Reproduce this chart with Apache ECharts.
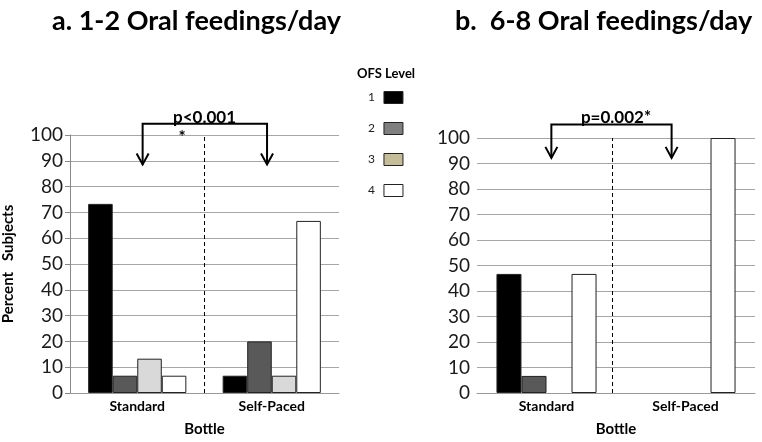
<!DOCTYPE html>
<html>
<head>
<meta charset="utf-8">
<script src="https://cdn.jsdelivr.net/npm/echarts@6/dist/echarts.min.js"></script>
<style>
  html, body { margin: 0; padding: 0; background: #fff; }
  #main { width: 762px; height: 442px; }
</style>
</head>
<body>
<div id="main"></div>
<script>
    var categories = ['Standard', 'Self-Paced'];
    var levels = ['1', '2', '3', '4'];
    var yTicks = [0, 10, 20, 30, 40, 50, 60, 70, 80, 90, 100];

    // a. 1-2 oral feedings/day, percent of subjects per OFS level
    var aLevel1 = [73.3, 6.7];
    var aLevel2 = [6.7, 20];
    var aLevel3 = [13.3, 6.7];
    var aLevel4 = [6.7, 66.7];

    // b. 6-8 oral feedings/day
    var bLevel1 = [46.7, 0];
    var bLevel2 = [6.7, 0];
    var bLevel3 = [0, 0];
    var bLevel4 = [46.7, 100];

    var pLabels = ['p<0.001', 'p=0.002*'];

    var FONT = 'Lato, "Open Sans", sans-serif';
    var barColors = ['#000000', '#595959', '#d9d9d9', '#ffffff'];
    var legendColors = ['#000000', '#7f7f7f', '#c4bd97', '#ffffff'];

    // bracket annotations, in (divider axis 0..2, percent) units
    var brackets = [
        {x1: 0.54, x2: 1.465, top: 104.4, tip: 88.6, textX: 1.0, star: true},
        {x1: 0.535, x2: 1.40, top: 105.3, tip: 92.2, textX: 1.0, star: false}
    ];
    var dividers = [1.0, 0.97];

    function bracketRender(idx) {
        return function (params, api) {
            var b = brackets[idx];
            var pL = api.coord([b.x1, b.top]);
            var pR = api.coord([b.x2, b.top]);
            var tL = api.coord([b.x1, b.tip]);
            var tR = api.coord([b.x2, b.tip]);
            var lineStyle = {stroke: '#000', lineWidth: 2, fill: null};
            var children = [
                {type: 'polyline', shape: {points: [tL, pL, pR, tR]}, style: lineStyle},
                {type: 'polyline', shape: {points: [[tL[0] - 6, tL[1] - 11], tL, [tL[0] + 6, tL[1] - 11]]}, style: lineStyle},
                {type: 'polyline', shape: {points: [[tR[0] - 6, tR[1] - 11], tR, [tR[0] + 6, tR[1] - 11]]}, style: lineStyle}
            ];
            var tp = api.coord([b.textX, b.top]);
            children.push({
                type: 'text',
                style: {text: pLabels[idx], x: tp[0], y: tp[1] + 2, align: 'center', verticalAlign: 'bottom',
                    font: 'bold 17px ' + FONT, fill: '#000'}
            });
            if (b.star) {
                children.push({
                    type: 'text',
                    style: {text: '*', x: tp[0] - 26, y: tp[1] + 5, align: 'left', verticalAlign: 'top',
                        font: 'bold 17px ' + FONT, fill: '#000'}
                });
            }
            return {type: 'group', children: children};
        };
    }

    function barSeries(name, data, gridIdx, colorIdx, gap) {
        return {
            name: name,
            type: 'bar',
            xAxisIndex: gridIdx,
            yAxisIndex: gridIdx,
            // an empty bar gets no outline
            data: data.map(function (v) {
                return v === 0 ? {value: v, itemStyle: {borderWidth: 0}} : v;
            }),
            barGap: 0,
            barCategoryGap: gap,
            itemStyle: {color: barColors[colorIdx], borderColor: '#222', borderWidth: 1},
            emphasis: {disabled: true}
        };
    }

    function yAxis(gridIdx, showLine, name) {
        return {
            type: 'value',
            gridIndex: gridIdx,
            min: 0, max: 100, interval: 10,
            name: name,
            nameLocation: 'middle',
            nameGap: 54,
            nameTextStyle: {fontFamily: FONT, fontWeight: 'bold', fontSize: 15, color: '#000'},
            axisLine: {show: showLine, lineStyle: {color: '#888'}},
            axisTick: {show: showLine, length: 5, lineStyle: {color: '#888'}},
            axisLabel: {fontFamily: FONT, fontSize: 19, color: '#1a1a1a', margin: 7,
                formatter: function (v) { return yTicks.indexOf(v) >= 0 ? String(v) : ''; }},
            splitLine: {lineStyle: {color: '#a6a6a6'}}
        };
    }

    function catAxis(gridIdx) {
        return {
            type: 'category',
            gridIndex: gridIdx,
            data: categories,
            name: 'Bottle',
            nameLocation: 'middle',
            nameGap: 29,
            nameTextStyle: {fontFamily: FONT, fontWeight: 'bold', fontSize: 15, color: '#000'},
            axisLine: {lineStyle: {color: '#999'}},
            axisTick: {show: false},
            axisLabel: {fontFamily: FONT, fontWeight: 'bold', fontSize: 14, color: '#000', margin: 6}
        };
    }

    function dividerAxis(gridIdx) {
        return {type: 'value', gridIndex: gridIdx, min: 0, max: 2, show: false};
    }

    var chart = echarts.init(document.getElementById('main'));
    var option = {
        backgroundColor: '#fff',
        animation: false,
        title: [
            {text: 'a. 1-2 Oral feedings/day', left: 47, top: 3,
                textStyle: {fontFamily: FONT, fontWeight: 'bold', fontSize: 27, color: '#000'}},
            {text: 'b.  6-8 Oral feedings/day', left: 450, top: 3,
                textStyle: {fontFamily: FONT, fontWeight: 'bold', fontSize: 27, color: '#000'}},
            {text: 'OFS Level', left: 352, top: 62,
                textStyle: {fontFamily: FONT, fontWeight: 'bold', fontSize: 13, color: '#000'}}
        ],
        legend: {
            orient: 'vertical',
            left: 363,
            top: 86,
            align: 'right',
            itemWidth: 19,
            itemHeight: 12,
            itemGap: 18,
            icon: 'rect',
            selectedMode: false,
            textStyle: {fontFamily: FONT, fontSize: 12, color: '#222', padding: [0, 4, 10, 0]},
            data: levels.map(function (l, i) {
                return {name: l, itemStyle: {color: legendColors[i], borderColor: '#222', borderWidth: 1}};
            })
        },
        grid: [
            {left: 69, right: 423, top: 135, bottom: 43},
            {left: 477, right: 7, top: 138, bottom: 41}
        ],
        xAxis: [catAxis(0), catAxis(1), dividerAxis(0), dividerAxis(1)],
        yAxis: [yAxis(0, true, 'Percent   Subjects'), yAxis(1, false, '')],
        series: [
            barSeries('1', aLevel1, 0, 0, '27%'),
            barSeries('2', aLevel2, 0, 1, '27%'),
            barSeries('3', aLevel3, 0, 2, '27%'),
            barSeries('4', aLevel4, 0, 3, '27%'),
            barSeries('1', bLevel1, 1, 0, '28%'),
            barSeries('2', bLevel2, 1, 1, '28%'),
            barSeries('3', bLevel3, 1, 2, '28%'),
            barSeries('4', bLevel4, 1, 3, '28%'),
            {
                type: 'custom', xAxisIndex: 2, yAxisIndex: 0, silent: true,
                renderItem: bracketRender(0), data: [[brackets[0].x1, brackets[0].top]],
                markLine: {symbol: 'none', silent: true, label: {show: false},
                    lineStyle: {type: [4, 3], color: '#000', width: 1}, data: [{xAxis: dividers[0]}]}
            },
            {
                type: 'custom', xAxisIndex: 3, yAxisIndex: 1, silent: true,
                renderItem: bracketRender(1), data: [[brackets[1].x1, brackets[1].top]],
                markLine: {symbol: 'none', silent: true, label: {show: false},
                    lineStyle: {type: [4, 3], color: '#000', width: 1}, data: [{xAxis: dividers[1]}]}
            }
        ]
    };
    chart.setOption(option);
</script>
</body>
</html>
